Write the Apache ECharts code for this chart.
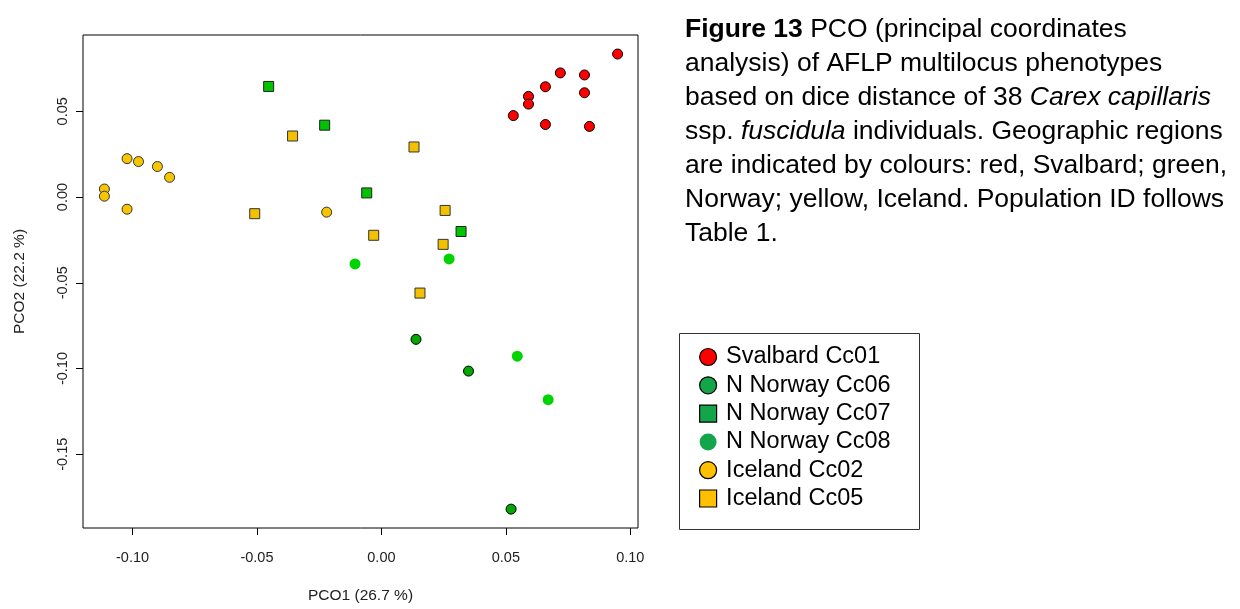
<!DOCTYPE html>
<html>
<head>
<meta charset="utf-8">
<script src="https://cdn.jsdelivr.net/npm/echarts@6/dist/echarts.min.js"></script>
<style>
html,body{margin:0;padding:0;background:#fff;}
#chart{width:1240px;height:609px;}
</style>
</head>
<body>
<div id="chart"></div>
<script>
// ---- data (PCO1, PCO2) ----
const svalbardCc01X = [0.0949, 0.0719, 0.0816, 0.0659, 0.0591, 0.0591, 0.0816, 0.0530, 0.0659, 0.0836];
const svalbardCc01Y = [0.0834, 0.0724, 0.0712, 0.0643, 0.0587, 0.0542, 0.0608, 0.0475, 0.0423, 0.0412];

const norwayCc06X = [0.0139, 0.0350, 0.0521];
const norwayCc06Y = [-0.0830, -0.1015, -0.1820];

const norwayCc07X = [-0.0453, -0.0228, -0.0059, 0.0320];
const norwayCc07Y = [0.0645, 0.0419, 0.0024, -0.0201];

const norwayCc08X = [-0.0106, 0.0272, 0.0546, 0.0670];
const norwayCc08Y = [-0.0390, -0.0361, -0.0928, -0.1182];

const icelandCc02X = [-0.1022, -0.0976, -0.0900, -0.0851, -0.1113, -0.1113, -0.1022, -0.0220];
const icelandCc02Y = [0.0224, 0.0207, 0.0178, 0.0115, 0.0047, 0.0005, -0.0071, -0.0088];

const icelandCc05X = [-0.0357, 0.0131, -0.0509, 0.0256, -0.0031, 0.0248, 0.0155];
const icelandCc05Y = [0.0356, 0.0292, -0.0097, -0.0078, -0.0223, -0.0276, -0.0560];

const seriesNames = ['Svalbard Cc01', 'N Norway Cc06', 'N Norway Cc07', 'N Norway Cc08', 'Iceland Cc02', 'Iceland Cc05'];

const xTickValues = [-0.10, -0.05, 0.00, 0.05, 0.10];
const xTickLabels = ['-0.10', '-0.05', '0.00', '0.05', '0.10'];
const yTickValues = [-0.15, -0.10, -0.05, 0.00, 0.05];
const yTickLabels = ['-0.15', '-0.10', '-0.05', '0.00', '0.05'];

const xAxisTitle = 'PCO1 (26.7 %)';
const yAxisTitle = 'PCO2 (22.2 %)';

const captionLines = [
  '{b|Figure 13} PCO (principal coordinates',
  'analysis) of AFLP multilocus phenotypes',
  'based on dice distance of 38 {i|Carex capillaris}',
  'ssp. {i|fuscidula} individuals. Geographic regions',
  'are indicated by colours: red, Svalbard; green,',
  'Norway; yellow, Iceland. Population ID follows',
  'Table 1.'
];

// ---- helpers ----
function pairs(xs, ys) { return xs.map((x, i) => [x, ys[i]]); }
function labelFor(values, labels) {
  return function (v) {
    for (let i = 0; i < values.length; i++) {
      if (Math.abs(values[i] - v) < 1e-9) return labels[i];
    }
    return '';
  };
}

const FONT = '"Liberation Sans", Arial, sans-serif';
const SQUARE = 'path://M0,0L16,0L16,16L0,16Z';

const styles = [
  { symbol: 'circle', size: 10, color: '#FF0000', border: '#000', bw: 1 },
  { symbol: 'circle', size: 10, color: '#00A800', border: '#000', bw: 1 },
  { symbol: 'rect',   size: 10, color: '#00C400', border: '#222', bw: 1 },
  { symbol: 'circle', size: 11, color: '#00D400', border: '#00D400', bw: 0 },
  { symbol: 'circle', size: 10, color: '#F7C600', border: '#333', bw: 1 },
  { symbol: 'rect',   size: 10, color: '#F2C200', border: '#333', bw: 1 }
];
const seriesData = [
  pairs(svalbardCc01X, svalbardCc01Y),
  pairs(norwayCc06X, norwayCc06Y),
  pairs(norwayCc07X, norwayCc07Y),
  pairs(norwayCc08X, norwayCc08Y),
  pairs(icelandCc02X, icelandCc02Y),
  pairs(icelandCc05X, icelandCc05Y)
];
const legendStyles = [
  { icon: 'circle', color: '#FF0000', border: '#000', bw: 1.2 },
  { icon: 'circle', color: '#12A54A', border: '#000', bw: 1.2 },
  { icon: SQUARE,   color: '#12A54A', border: '#000', bw: 1.2 },
  { icon: 'circle', color: '#12A54A', border: '#12A54A', bw: 0 },
  { icon: 'circle', color: '#FFC000', border: '#000', bw: 1.2 },
  { icon: SQUARE,   color: '#FFC000', border: '#000', bw: 1.2 }
];

const chart = echarts.init(document.getElementById('chart'), null, { renderer: 'canvas' });

chart.setOption({
  animation: false,
  backgroundColor: '#fff',
  title: {
    left: 685,
    top: 13,
    padding: 0,
    text: captionLines.join('\n'),
    textStyle: {
      fontFamily: FONT, fontSize: 26.5, fontWeight: 'normal', color: '#000', lineHeight: 34,
      rich: {
        b: { fontFamily: FONT, fontSize: 26.5, fontWeight: 'bold', color: '#000', lineHeight: 34 },
        i: { fontFamily: FONT, fontSize: 26.5, fontStyle: 'italic', color: '#000', lineHeight: 34 }
      }
    }
  },
  graphic: [{
    type: 'rect',
    shape: { x: 679.5, y: 333.5, width: 240, height: 196 },
    style: { fill: 'none', stroke: '#333', lineWidth: 1 },
    silent: true
  }],
  legend: {
    orient: 'vertical',
    left: 699,
    top: 345,
    padding: 0,
    itemWidth: 26,
    itemHeight: 17,
    itemGap: 4.3,
    symbolKeepAspect: true,
    selectedMode: false,
    textStyle: { fontFamily: FONT, fontSize: 23.5, color: '#000' },
    data: seriesNames.map((n, i) => ({
      name: n,
      icon: legendStyles[i].icon,
      itemStyle: { color: legendStyles[i].color, borderColor: legendStyles[i].border, borderWidth: legendStyles[i].bw }
    }))
  },
  grid: {
    left: 83, top: 35, width: 555, height: 497,
    show: true, borderColor: '#000', borderWidth: 1, backgroundColor: 'transparent'
  },
  xAxis: {
    type: 'value',
    min: -0.1199, max: 0.1031,
    name: xAxisTitle,
    nameLocation: 'middle',
    nameGap: 60,
    nameTextStyle: { fontFamily: FONT, fontSize: 15.5, color: '#222' },
    axisLine: { show: false, onZero: false },
    splitLine: { show: false },
    axisTick: { show: true, length: 7, inside: false, customValues: xTickValues, lineStyle: { color: '#000' } },
    axisLabel: {
      customValues: xTickValues,
      formatter: labelFor(xTickValues, xTickLabels),
      margin: 22,
      fontFamily: FONT, fontSize: 14.5, color: '#222'
    }
  },
  yAxis: {
    type: 'value',
    min: -0.1930, max: 0.0945,
    name: yAxisTitle,
    nameLocation: 'middle',
    nameRotate: 90,
    nameGap: 55,
    nameTextStyle: { fontFamily: FONT, fontSize: 15.5, color: '#222' },
    axisLine: { show: false, onZero: false },
    splitLine: { show: false },
    axisTick: { show: true, length: 7, inside: false, customValues: yTickValues, lineStyle: { color: '#000' } },
    axisLabel: {
      customValues: yTickValues,
      formatter: labelFor(yTickValues, yTickLabels),
      rotate: 90,
      margin: 13,
      fontFamily: FONT, fontSize: 14.5, color: '#222'
    }
  },
  series: seriesNames.map((n, i) => ({
    name: n,
    type: 'scatter',
    symbol: styles[i].symbol,
    symbolSize: styles[i].size,
    itemStyle: { color: styles[i].color, borderColor: styles[i].border, borderWidth: styles[i].bw, opacity: 1 },
    emphasis: { disabled: true },
    data: seriesData[i]
  }))
});
</script>
</body>
</html>
